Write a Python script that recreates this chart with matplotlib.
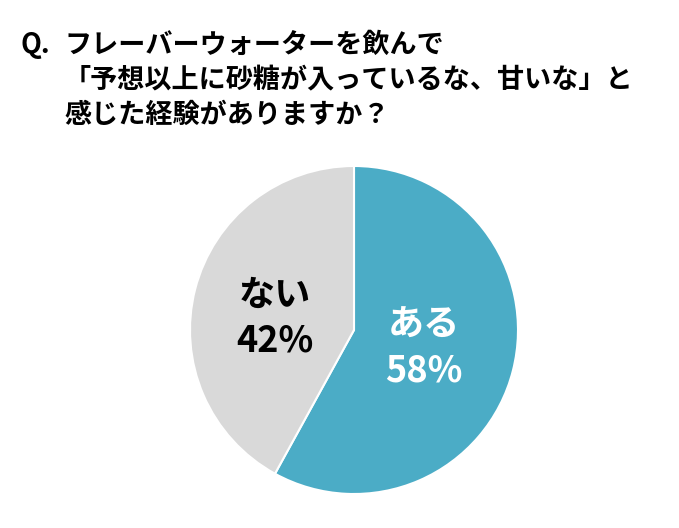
import matplotlib
matplotlib.use("Agg")
import matplotlib.pyplot as plt

labels = ["ある", "ない"]
values = [58, 42]
colors = ["#4BACC6", "#D9D9D9"]
text_colors = ["white", "black"]

plt.rcParams['font.family'] = ['Noto Sans CJK JP', 'DejaVu Sans']
W, H = 679, 528
fig = plt.figure(figsize=(W/100, H/100), dpi=100)

cx, cy, r = 354, 330, 164
ax = fig.add_axes([(cx-r)/W, 1-(cy+r)/H, 2*r/W, 2*r/H])
wedges, _ = ax.pie(values, colors=colors, startangle=90, counterclock=False,
                   wedgeprops=dict(edgecolor="white", linewidth=1.5), radius=1)
ax.set_xlim(-1, 1); ax.set_ylim(-1, 1); ax.set_aspect('equal'); ax.axis('off')

pos = [(424, 348), (275, 318)]
for (x, y), lab, v, tc in zip(pos, labels, values, text_colors):
    fig.text(x/W, 1-y/H, f"{lab}\n{v}%", ha='center', va='center', color=tc,
             fontsize=26, fontweight='bold', linespacing=1.3)

fig.text(20/W, 1-45/H, "Q.", fontsize=19.5, fontweight='bold', va='center', ha='left')
title = ["フレーバーウォーターを飲んで", "「予想以上に砂糖が入っているな、甘いな」と", "感じた経験がありますか？"]
for i, t in enumerate(title):
    fig.text(64/W, 1-(45+35*i)/H, t, fontsize=19.5, fontweight='bold', va='center', ha='left')

fig.savefig("out.png", dpi=100, facecolor="white")
